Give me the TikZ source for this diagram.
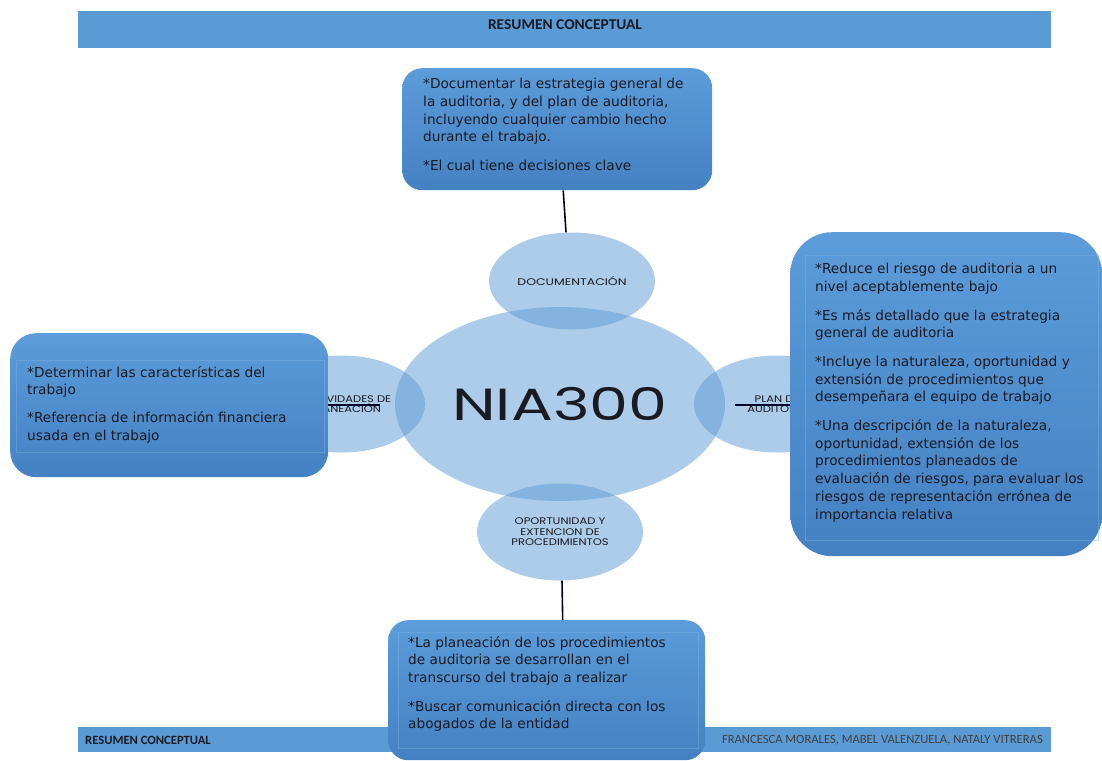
\documentclass[tikz,border=0pt]{standalone}
\usepackage{fontspec}
\setmainfont{DejaVu Sans}
\newfontfamily\geofont{Poppins}
\newfontfamily\carfont{Carlito}
\usetikzlibrary{shapes.geometric}
\definecolor{bannerblue}{HTML}{5B9BD5}
\definecolor{boxtop}{HTML}{5C9CDA}
\definecolor{boxbot}{HTML}{4481C3}
\definecolor{ellblue}{HTML}{5B9BD5}
\definecolor{txt}{HTML}{1A1A22}
\definecolor{inner}{HTML}{7FB0E0}
\tikzset{
  banner/.style={fill=bannerblue, draw=none, anchor=north west, inner sep=0},
  bubble/.style={ellipse, fill=ellblue, fill opacity=0.5, text opacity=1, draw=none, inner sep=0},
  ellabel/.style={font=\geofont\fontsize{9.6}{10.5}\selectfont, text=txt, align=center},
  cbox/.style={top color=boxtop, bottom color=boxbot, draw=none, anchor=north west, inner sep=0},
  innerrect/.style={draw=inner, draw opacity=0.45, line width=0.6pt, fill=none, anchor=north west, inner sep=0},
  btext/.style={font=\fontsize{13.7}{17.7}\selectfont, text=txt, align=left, anchor=north west, inner sep=0},
  conn/.style={draw=black!85!blue, line width=1.6pt},
}
\newcommand{\wide}[2]{\scalebox{#1}[1]{#2}}
\begin{document}
\begin{tikzpicture}[x=1pt,y=-1pt]
\useasboundingbox (0,0) rectangle (1102,760);
\fill[white] (0,0) rectangle (1102,760);
% top banner
\node[banner, minimum width=973, minimum height=37] (topban) at (78,11) {};
\node[font=\carfont\bfseries\fontsize{15}{17}\selectfont, text=txt] (toptitle) at (565,25) {\wide{1.03}{RESUMEN CONCEPTUAL}};
% footer banner
\node[banner, minimum width=973, minimum height=25] (footban) at (78,727) {};
\node[font=\carfont\bfseries\fontsize{12.6}{14}\selectfont, text=txt, anchor=west, inner sep=0] (footl) at (85,740) {\wide{1.0}{RESUMEN CONCEPTUAL}};
\node[font=\carfont\fontsize{12.6}{14}\selectfont, text=black!75, anchor=east, inner sep=0] (footr) at (1043,740) {\wide{1.0}{FRANCESCA MORALES, MABEL VALENZUELA, NATALY VITRERAS}};
% ellipses
\node[bubble, minimum width=330, minimum height=194] (nia) at (560,404) {};
\node[font=\geofont\fontsize{45}{50}\selectfont, text=txt] (niatxt) at (560,404) {\wide{1.38}{NIA300}};
\node[bubble, minimum width=166, minimum height=97] (doc) at (572,281) {};
\node[ellabel] (doctxt) at (572,281) {\wide{1.3}{DOCUMENTACIÓN}};
\node[bubble, minimum width=166, minimum height=97] (act) at (342,404) {};
\node[ellabel] (acttxt) at (346,404) {\wide{1.2}{ACTIVIDADES DE}\\\wide{1.2}{PLANEACIÓN}};
\node[bubble, minimum width=166, minimum height=97] (plan) at (777,404) {};
\node[ellabel] (plantxt) at (777,404) {\wide{1.2}{PLAN DE}\\\wide{1.2}{AUDITORIA}};
\node[bubble, minimum width=166, minimum height=97] (opor) at (560,532) {};
\node[ellabel] (oportxt) at (560,532) {\wide{1.2}{OPORTUNIDAD Y}\\\wide{1.2}{EXTENCION DE}\\\wide{1.2}{PROCEDIMIENTOS}};
% connector end points
\coordinate (actend) at (380,405);
\coordinate (planend) at (735,405);
% boxes
\node[cbox, rounded corners=20, minimum width=310, minimum height=122] (topbox) at (402,68) {};
\node[cbox, rounded corners=26, minimum width=318, minimum height=144] (leftbox) at (10,333) {};
\node[innerrect, minimum width=308, minimum height=92] (leftin) at (16,360) {};
\node[cbox, rounded corners=42, minimum width=312, minimum height=324] (rightbox) at (790,232) {};
\node[innerrect, minimum width=293, minimum height=285] (rightin) at (805,255) {};
\node[cbox, rounded corners=20, minimum width=317, minimum height=140] (botbox) at (388,620) {};
\node[innerrect, minimum width=300, minimum height=116] (botin) at (398,632) {};
% connectors
\draw[conn] ([xshift=6]topbox.south) -- ([xshift=-6]doc.north);
\draw[conn] ([xshift=2]opor.south) -- ([xshift=16]botbox.north);
\draw[conn] (leftbox.east |- actend) -- (actend);
\draw[conn] (planend) -- (rightbox.west |- planend);
% box texts
\node[btext] (toptext) at (423,78) {*Documentar la estrategia general de\\la auditoria, y del plan de auditoria,\\incluyendo cualquier cambio hecho\\durante el trabajo.\\[11pt]*El cual tiene decisiones clave};
\node[btext] (lefttext) at (27,366) {*Determinar las características del\\trabajo\\[10pt]*Referencia de información financiera\\usada en el trabajo};
\node[btext] (righttext) at (815,263) {*Reduce el riesgo de auditoria a un\\nivel aceptablemente bajo\\[11pt]*Es más detallado que la estrategia\\general de auditoria\\[11pt]*Incluye la naturaleza, oportunidad y\\extensión de procedimientos que\\desempeñara el equipo de trabajo\\[11pt]*Una descripción de la naturaleza,\\oportunidad, extensión de los\\procedimientos planeados de\\evaluación de riesgos, para evaluar los\\riesgos de representación errónea de\\importancia relativa};
\node[btext] (bottext) at (408,636) {*La planeación de los procedimientos\\de auditoria se desarrollan en el\\transcurso del trabajo a realizar\\[11pt]*Buscar comunicación directa con los\\abogados de la entidad};
\end{tikzpicture}
\end{document}
